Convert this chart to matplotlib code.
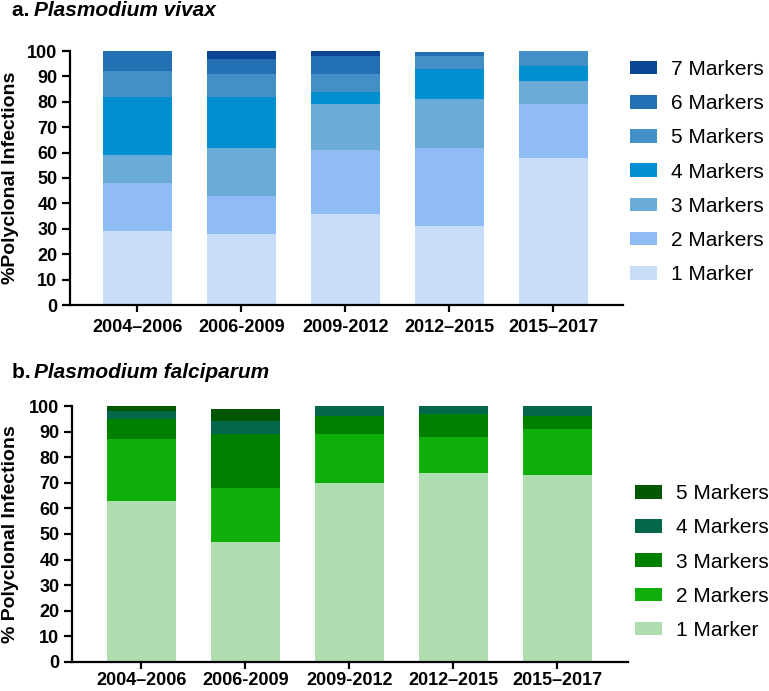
import matplotlib
matplotlib.use("Agg")
import matplotlib.pyplot as plt
import numpy as np

plt.rcParams['font.family'] = ['Liberation Sans', 'DejaVu Sans']

periods = ["2004\u20132006", "2006-2009", "2009-2012", "2012\u20132015", "2015\u20132017"]

# Plasmodium vivax (% of polyclonal infections by number of markers)
vivax_labels = ["1 Marker", "2 Markers", "3 Markers", "4 Markers", "5 Markers", "6 Markers", "7 Markers"]
vivax_1 = [29, 28, 36, 31, 58]
vivax_2 = [19, 15, 25, 31, 21]
vivax_3 = [11, 19, 18, 19, 9]
vivax_4 = [23, 20, 5, 12, 6]
vivax_5 = [10, 9, 7, 5, 6]
vivax_6 = [8, 6, 7, 1.5, 0]
vivax_7 = [0, 3, 2, 0, 0]
vivax_colors = ["#c8ddf7", "#8fbcf5", "#6aacd7", "#028fd2", "#4290c5", "#2370b4", "#0a4596"]

# Plasmodium falciparum
falc_labels = ["1 Marker", "2 Markers", "3 Markers", "4 Markers", "5 Markers"]
falc_1 = [63, 47, 70, 74, 73]
falc_2 = [24, 21, 19, 14, 18]
falc_3 = [8, 21, 7, 9, 5]
falc_4 = [3, 5, 4, 3, 4]
falc_5 = [2, 5, 0, 0, 0]
falc_colors = ["#aedeb0", "#10ae0a", "#008000", "#05674a", "#025802"]

W, H = 769, 691
fig = plt.figure(figsize=(W / 100, H / 100), dpi=100)

def make_axes(l, r, t, b):
    return fig.add_axes([l / W, 1 - b / H, (r - l) / W, (b - t) / H])

ax1 = make_axes(70, 623, 51, 305)
ax2 = make_axes(72, 628, 406, 662)

def draw(ax, series, labels, colors, xlim, ylabel, xpad):
    x = np.arange(len(periods))
    bottom = np.zeros(len(periods))
    handles = []
    for vals, lab, col in zip(series, labels, colors):
        h = ax.bar(x, vals, width=0.663, bottom=bottom, color=col, label=lab, linewidth=0)
        handles.append(h)
        bottom += np.array(vals, dtype=float)
    ax.set_xlim(*xlim)
    ax.set_ylim(0, 100)
    ax.set_yticks(np.arange(0, 101, 10))
    ax.set_xticks(x)
    ax.set_xticklabels(periods, fontsize=13, fontweight='bold')
    for t in ax.get_yticklabels():
        t.set_fontsize(13)
        t.set_fontweight('bold')
    for s in ['top', 'right']:
        ax.spines[s].set_visible(False)
    for s in ['left', 'bottom']:
        ax.spines[s].set_linewidth(1.6)
    ax.tick_params(axis='both', width=1.6, length=6, pad=3)
    ax.tick_params(axis='x', pad=xpad, length=5)
    ax.set_ylabel(ylabel, fontsize=14, fontweight='bold')
    leg = ax.legend(handles[::-1], labels[::-1], loc='center left',
                    frameon=False, fontsize=15, handlelength=1.3, handleheight=0.62,
                    handletextpad=0.7, labelspacing=0.73, borderaxespad=0.3)
    return leg

leg1 = draw(ax1, [vivax_1, vivax_2, vivax_3, vivax_4, vivax_5, vivax_6, vivax_7],
            vivax_labels, vivax_colors, (-0.649, 4.67), "%Polyclonal Infections", 5)
leg2 = draw(ax2, [falc_1, falc_2, falc_3, falc_4, falc_5],
            falc_labels, falc_colors, (-0.666, 4.68), "% Polyclonal Infections", 2)

ax1.yaxis.set_label_coords((19 - 70) / 553, 0.5)
ax2.yaxis.set_label_coords((19 - 72) / 556, 0.5)

# Legend placement (pixel based)
leg1.set_bbox_to_anchor((615 / W, 1 - 172 / H), transform=fig.transFigure)
leg2.set_bbox_to_anchor((620 / W, 1 - 562 / H), transform=fig.transFigure)

fig.text(12 / W, 1 - 11 / H, "a. ", fontsize=15, fontweight='bold', va='center', ha='left')
fig.text(34 / W, 1 - 11 / H, "Plasmodium vivax", fontsize=15, fontweight='bold', style='italic', va='center', ha='left')
fig.text(12 / W, 1 - 373 / H, "b. ", fontsize=15, fontweight='bold', va='center', ha='left')
fig.text(34 / W, 1 - 373 / H, "Plasmodium falciparum", fontsize=15, fontweight='bold', style='italic', va='center', ha='left')

fig.savefig("out.png", dpi=100)
